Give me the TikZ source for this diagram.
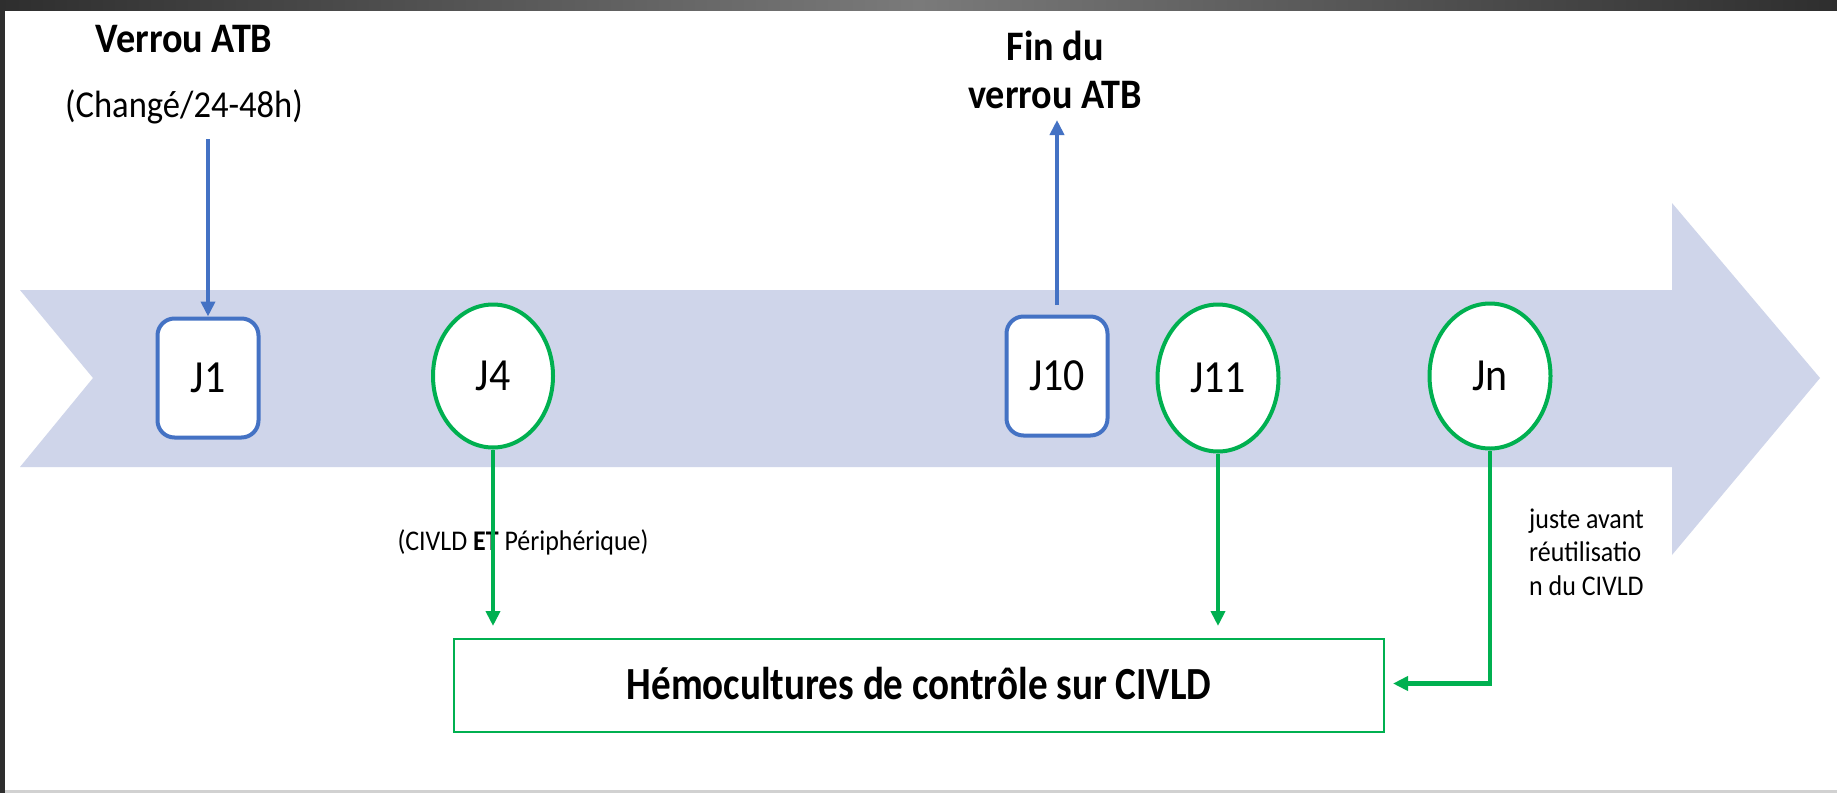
\documentclass[tikz,border=0pt]{standalone}
\usepackage{fontspec}
\setmainfont{Carlito}[FakeStretch=0.91]
\newfontfamily\narrowfont{Carlito}[FakeStretch=0.85]
\usetikzlibrary{shapes.geometric,arrows.meta}
\definecolor{bandcol}{HTML}{CFD5EA}
\definecolor{bluecol}{HTML}{4472C4}
\definecolor{greencol}{HTML}{00B050}
\definecolor{framedark}{HTML}{2E2E2E}
\definecolor{framemid}{HTML}{7A7A7A}
\tikzset{
  daybox/.style={draw=bluecol, line width=4pt, fill=white, rounded corners=17pt,
    minimum width=101pt, minimum height=119pt, font=\fontsize{46}{52}\selectfont},
  dayoval/.style={draw=greencol, line width=4pt, fill=white, ellipse, inner sep=0pt,
    font=\fontsize{46}{52}\selectfont},
  bluearrow/.style={draw=bluecol, line width=4pt, -{Triangle[width=14pt,length=15pt]}},
  greenarrow/.style={draw=greencol, line width=4.5pt, -{Triangle[width=14pt,length=15pt]}},
  titletext/.style={font=\bfseries\fontsize{42}{48}\selectfont, align=center},
  smalltext/.style={font=\fontsize{28.5}{33.5}\selectfont}
}
\begin{document}
\begin{tikzpicture}[x=1pt, y=-1pt]
\useasboundingbox (0,0) rectangle (1837,793);
\fill[white] (0,0) rectangle (1837,793);
% window frame
\shade[left color=framedark, right color=framedark, middle color=framemid] (0,0) rectangle (1837,10);
\fill[framedark] (0,0) rectangle (5,793);
\fill[black!18] (5,790) rectangle (1837,793);
% timeline band
\fill[bandcol] (20,290) -- (1672,290) -- (1672,203) -- (1820,378) -- (1672,555)
  -- (1672,467) -- (20,467) -- (93,378) -- cycle;
% headings
\node[titletext] (verrou) at (184,39) {Verrou ATB};
\node[font=\fontsize{38}{44}\selectfont] (chg) at (184,107) {(Changé/24-48h)};
\node[titletext] (fin) at (1055,70) {Fin du\\verrou ATB};
% days
\node[daybox] (J1) at (208,378) {J1};
\node[dayoval, minimum width=120pt, minimum height=143pt] (J4) at (493,376) {J4};
\node[daybox] (J10) at (1057,376) {J10};
\node[dayoval, minimum width=121pt, minimum height=147pt] (J11) at (1218,378) {J11};
\node[dayoval, minimum width=121pt, minimum height=145pt] (Jn) at (1490,376) {Jn};
% result box
\node[draw=greencol, line width=2pt, minimum width=930pt, minimum height=93pt,
  font=\narrowfont\bfseries\fontsize{46}{52}\selectfont] (res) at (919,685.5)
  {\raisebox{5pt}{Hémocultures de contrôle sur CIVLD}};
% notes
\node[smalltext] (both) at (523,542) {(CIVLD \textbf{ET} Périphérique)};
\node[smalltext, anchor=west, align=left, inner sep=0pt] (reuse) at (1529,552)
  {juste avant\\réutilisatio\\n du CIVLD};
% connectors
\coordinate (a1) at (208,139);
\draw[bluearrow] (a1) -- (J1.north);
\coordinate (a10s) at (1057,305);
\coordinate (a10e) at (1057,120);
\draw[bluearrow] (a10s) -- (a10e);
\draw[greenarrow, shorten >=12pt] (J4.south) -- (J4.south |- res.north);
\draw[greenarrow, shorten >=12pt] (J11.south) -- (J11.south |- res.north);
\draw[greenarrow, shorten >=8pt] (Jn.south) |- ([yshift=2pt]res.east);
\end{tikzpicture}
\end{document}
